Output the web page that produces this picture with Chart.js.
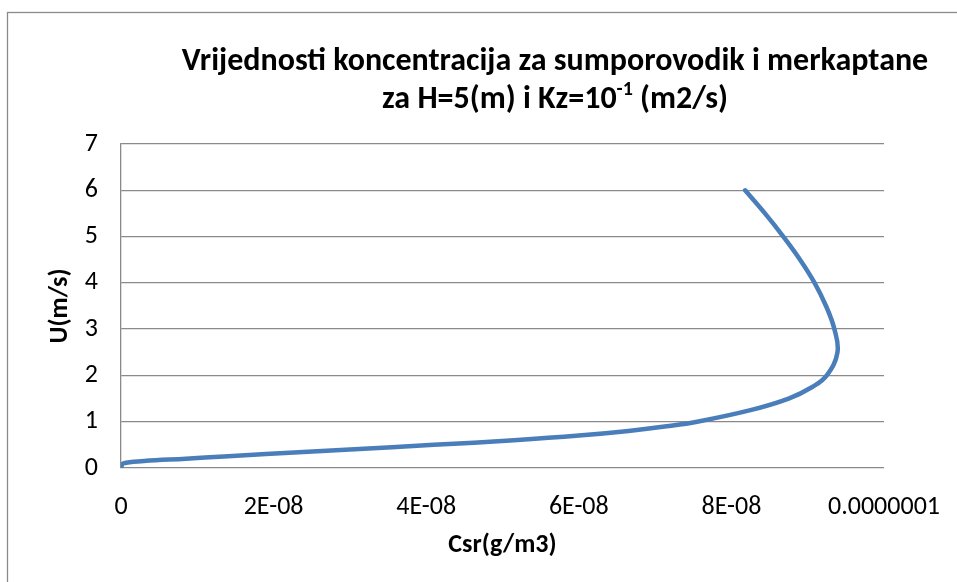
<!DOCTYPE html>
<html>
<head>
<meta charset="utf-8">
<script src="https://cdn.jsdelivr.net/npm/chart.js@4/dist/chart.umd.min.js"></script>
<style>
  html, body { margin: 0; padding: 0; background: #ffffff; }
  #wrap { width: 957px; height: 582px; }
</style>
</head>
<body>
<div id="wrap"><canvas id="myChart" width="957" height="582"></canvas></div>
<script>
// brzina vjetra U (m/s) i srednja koncentracija Csr (g/m3)
var uValues = [0, 0.1, 0.15, 0.2, 0.25, 0.3, 0.4, 0.5, 0.6, 0.7, 0.8, 0.9, 1.0, 1.25, 1.5, 1.75, 2.0, 2.5, 3.0, 3.5, 4.0, 4.5, 5.0, 5.5, 6.0];
var csrValues = [0, 3e-10, 3e-9, 8.5e-9, 1.35e-8, 1.9e-8, 3.0e-8, 4.1e-8, 5.15e-8, 6.0e-8, 6.65e-8, 7.15e-8, 7.55e-8, 8.25e-8, 8.75e-8, 9.06e-8, 9.25e-8, 9.39e-8, 9.35e-8, 9.24e-8, 9.09e-8, 8.9e-8, 8.68e-8, 8.44e-8, 8.18e-8];

var xTickValues = [0, 2e-8, 4e-8, 6e-8, 8e-8, 1e-7];
var xTickLabels = ['0', '2E-08', '4E-08', '6E-08', '8E-08', '0.0000001'];

var titleLine1 = 'Vrijednosti koncentracija za sumporovodik i merkaptane';
var titleLine2a = 'za H=5(m) i Kz=10';
var titleSup = '-1';
var titleLine2b = ' (m2/s)';

var fontFamily = 'Carlito, Calibri, Lato, sans-serif';

var points = [];
for (var i = 0; i < uValues.length; i++) {
	points.push({x: csrValues[i], y: uValues[i]});
}

// okvir oko cijelog grafikona + naslov sa eksponentom
var framePlugin = {
	id: 'frame',
	beforeDraw: function(chart) {
		var ctx = chart.ctx;
		ctx.save();
		ctx.strokeStyle = '#8a8a8a';
		ctx.lineWidth = 1.3;
		ctx.strokeRect(7.5, 12.5, 1200, 1200);
		ctx.restore();
	},
	afterDraw: function(chart) {
		var ctx = chart.ctx;
		var cx = 555;
		ctx.save();
		ctx.fillStyle = '#000000';
		ctx.textBaseline = 'alphabetic';
		ctx.font = 'bold 32px ' + fontFamily;
		ctx.textAlign = 'center';
		ctx.fillText(titleLine1, cx, 70);

		var w1 = ctx.measureText(titleLine2a).width;
		var w3 = ctx.measureText(titleLine2b).width;
		ctx.font = 'bold 20px ' + fontFamily;
		var w2 = ctx.measureText(titleSup).width;
		var x = cx - (w1 + w2 + w3) / 2;
		ctx.textAlign = 'left';
		ctx.font = 'bold 32px ' + fontFamily;
		ctx.fillText(titleLine2a, x, 108);
		ctx.font = 'bold 20px ' + fontFamily;
		ctx.fillText(titleSup, x + w1, 95);
		ctx.font = 'bold 32px ' + fontFamily;
		ctx.fillText(titleLine2b, x + w1 + w2, 108);
		ctx.restore();
	}
};

const ctx = document.getElementById('myChart');
var chart = new Chart(ctx, {
	type: 'scatter',
	data: {
		datasets: [{
			data: points,
			showLine: true,
			borderColor: '#4a7ebb',
			borderWidth: 4.5,
			borderCapStyle: 'round',
			borderJoinStyle: 'round',
			tension: 0.4,
			pointRadius: 0,
			pointHoverRadius: 0
		}]
	},
	options: {
		responsive: false,
		animation: false,
		events: [],
		layout: {
			padding: {top: 144, left: 0, right: 73, bottom: 0}
		},
		plugins: {
			legend: {display: false},
			tooltip: {enabled: false}
		},
		scales: {
			x: {
				type: 'linear',
				min: 0,
				max: 1e-7,
				afterBuildTicks: function(scale) {
					scale.ticks = xTickValues.map(function(v) { return {value: v}; });
				},
				afterFit: function(scale) {
					scale.height = 114;
					// zadnja oznaka stane u desni razmak
					scale.paddingLeft = 0;
					scale.paddingRight = 0;
				},
				grid: {display: false, drawTicks: false},
				border: {display: false},
				ticks: {
					color: '#000000',
					padding: 24,
					maxRotation: 0,
					autoSkip: false,
					font: {family: fontFamily, size: 26},
					callback: function(value, index) {
						return xTickLabels[index];
					}
				},
				title: {
					display: true,
					text: 'Csr(g/m3)',
					color: '#000000',
					padding: {top: 0, bottom: 21},
					font: {family: fontFamily, size: 26, weight: 'bold'}
				}
			},
			y: {
				type: 'linear',
				min: 0,
				max: 7,
				afterFit: function(scale) {
					scale.width = 121;
				},
				grid: {color: '#8a8a8a', lineWidth: 1.3, drawTicks: false},
				border: {display: true, color: '#8a8a8a', width: 1.3},
				ticks: {
					stepSize: 1,
					color: '#000000',
					padding: 23,
					font: {family: fontFamily, size: 26}
				},
				title: {
					display: true,
					text: 'U(m/s)',
					color: '#000000',
					padding: {top: 45, bottom: 0},
					font: {family: fontFamily, size: 26, weight: 'bold'}
				}
			}
		}
	},
	plugins: [framePlugin]
});
</script>
</body>
</html>
